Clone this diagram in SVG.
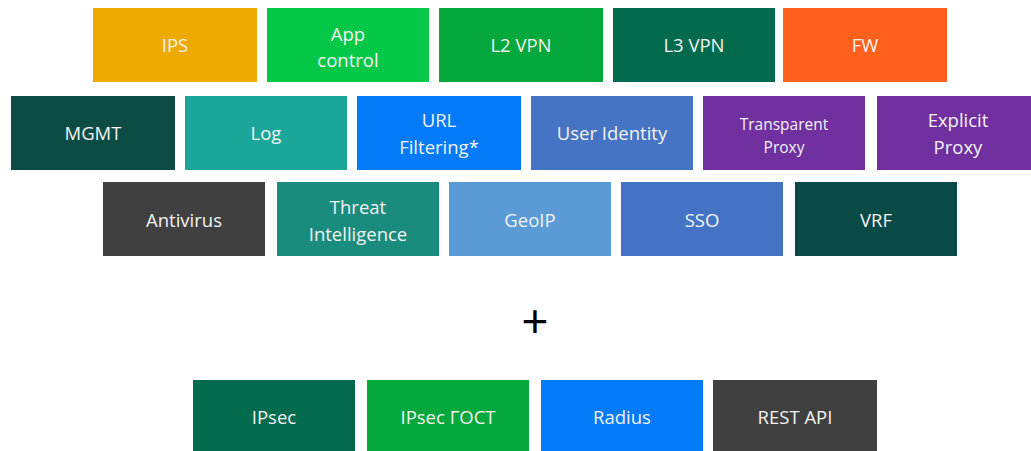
<svg xmlns="http://www.w3.org/2000/svg" width="1031" height="451" viewBox="0 0 1031 451">
<style>
text{font-family:"Open Sans","Liberation Sans",sans-serif;fill:#F2F2F2;text-anchor:middle;font-size:18.5px}
.sm{font-size:15.5px}
.plus{fill:#000;font-size:46px;font-family:"Liberation Sans",sans-serif}
</style>
<rect width="1031" height="451" fill="#fff"/>
<g id="ips"><rect x="93" y="8" width="164" height="74" fill="#EFAA00"/><text x="175" y="52">IPS</text></g>
<g id="app"><rect x="267" y="8" width="162" height="74" fill="#05C848"/><text x="348" y="41">App</text><text x="348" y="67">control</text></g>
<g id="l2vpn"><rect x="439" y="8" width="164" height="74" fill="#05A83D"/><text x="521" y="52">L2 VPN</text></g>
<g id="l3vpn"><rect x="613" y="8" width="162" height="74" fill="#036B4D"/><text x="694" y="52">L3 VPN</text></g>
<g id="fw"><rect x="783" y="8" width="164" height="74" fill="#FF611C"/><text x="865" y="52">FW</text></g>
<g id="mgmt"><rect x="11" y="96" width="164" height="74" fill="#0C4C45"/><text x="93" y="140">MGMT</text></g>
<g id="log"><rect x="185" y="96" width="162" height="74" fill="#1BA69A"/><text x="266" y="140">Log</text></g>
<g id="url"><rect x="357" y="96" width="164" height="74" fill="#037BF8"/><text x="439" y="127">URL</text><text x="439" y="154">Filtering*</text></g>
<g id="userid"><rect x="531" y="96" width="162" height="74" fill="#4574C4"/><text x="612" y="140">User Identity</text></g>
<g id="tproxy"><rect x="703" y="96" width="162" height="74" fill="#7030A0"/><text class="sm" x="784" y="130">Transparent</text><text class="sm" x="784" y="153">Proxy</text></g>
<g id="eproxy"><rect x="877" y="96" width="162" height="74" fill="#7030A0"/><text x="958" y="127">Explicit</text><text x="958" y="154">Proxy</text></g>
<g id="antivirus"><rect x="103" y="182" width="162" height="74" fill="#404040"/><text x="184" y="227">Antivirus</text></g>
<g id="threat"><rect x="277" y="182" width="162" height="74" fill="#1A8C7E"/><text x="358" y="214">Threat</text><text x="358" y="241">Intelligence</text></g>
<g id="geoip"><rect x="449" y="182" width="162" height="74" fill="#5B9BD5"/><text x="530" y="227">GeoIP</text></g>
<g id="sso"><rect x="621" y="182" width="162" height="74" fill="#4472C4"/><text x="702" y="227">SSO</text></g>
<g id="vrf"><rect x="795" y="182" width="162" height="74" fill="#0A4A46"/><text x="876" y="227">VRF</text></g>
<g id="plus"><text class="plus" x="535" y="337">+</text></g>
<g id="ipsec"><rect x="193" y="380" width="162" height="71" fill="#036B4D"/><text x="274" y="424">IPsec</text></g>
<g id="ipsecgost"><rect x="367" y="380" width="162" height="71" fill="#05A83D"/><text x="448" y="424">IPsec ГОСТ</text></g>
<g id="radius"><rect x="541" y="380" width="162" height="71" fill="#037BF8"/><text x="622" y="424">Radius</text></g>
<g id="restapi"><rect x="713" y="380" width="164" height="71" fill="#404040"/><text x="795" y="424">REST API</text></g>
<g id="connectors"/>
</svg>
